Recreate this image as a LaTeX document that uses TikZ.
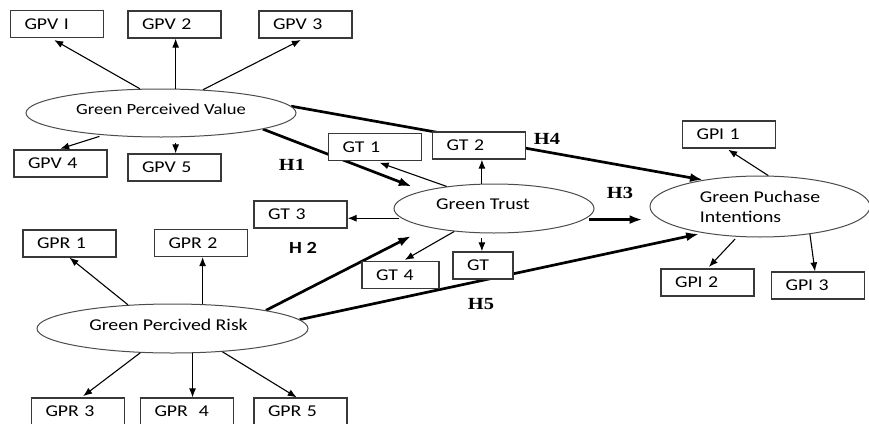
\documentclass[tikz,border=0pt]{standalone}
\usepackage{fontspec}
\setmainfont{Carlito}[FakeStretch=1.2]
\newfontfamily\hfont{Liberation Serif}[FakeStretch=1.2]
\usetikzlibrary{shapes.geometric,arrows.meta,backgrounds}

\tikzset{
    item/.style={draw=black!78, line width=1.2pt, fill=white, align=left, text width=65pt,
        inner xsep=14pt, inner ysep=0pt, minimum height=27pt, font=\fontsize{16.5}{20}\selectfont},
    latent/.style={ellipse, draw=black!70, line width=1pt, fill=white, inner sep=0pt,
        font=\fontsize{16.5}{20}\selectfont},
    loading/.style={-{Latex[length=9pt,width=7pt]}, line width=1.1pt},
    hpath/.style={-{Latex[length=13pt,width=9pt]}, line width=2.7pt},
    hyp/.style={font=\hfont\bfseries\fontsize{17}{20}\selectfont},
}

\begin{document}
\begin{tikzpicture}[x=1pt,y=-1pt]
    \useasboundingbox (0,0) rectangle (869,423);

    % constructs
    \node[latent, minimum width=270pt, minimum height=48pt, text depth=8pt,
        font=\fontsize{15.5}{19}\selectfont] (gpv) at (161,113) {Green Perceived Value};
    \node[latent, minimum width=200pt, minimum height=49pt, text depth=8pt] (gt) at (494,208.5) {Green Trust\kern22pt};
    \node[latent, minimum width=220pt, minimum height=61pt, align=left] (gpi) at (760,206.5) {Green Puchase\\Intentions};
    \node[latent, minimum width=271pt, minimum height=49pt, text depth=8pt] (gpr) at (172.5,328.5) {Green Percived Risk\kern8pt};

    % indicators
    \node[item] (gpv1) at (57,24) {GPV I};
    \node[item] (gpv2) at (174.5,24.5) {GPV 2};
    \node[item] (gpv3) at (305.5,24.5) {GPV 3};
    \node[item] (gpv4) at (60.5,163.5) {GPV 4};
    \node[item] (gpv5) at (174.5,167.5) {GPV 5};

    \node[item] (gt1) at (375,147) {GT 1};
    \node[item] (gt2) at (479,145.5) {GT 2};
    \node[item] (gt3) at (300.5,214.5) {GT 3};
    \node[item, text width=49pt] (gt4) at (400.5,275) {GT 4};
    \node[item, text width=32pt] (gtx) at (483,265.5) {GT};

    \node[item] (gpi1) at (729,134.5) {GPI 1};
    \node[item] (gpi2) at (707.5,282.5) {GPI 2};
    \node[item] (gpi3) at (818,285.5) {GPI 3};

    \node[item] (gpr1) at (69.5,243.5) {GPR 1};
    \node[item] (gpr2) at (201,243) {GPR 2};
    \node[item] (gpr3) at (78,411.5) {GPR 3};
    \node[item] (gpr4) at (187,411.5) {GPR~~4};
    \node[item] (gpr5) at (300.5,411.5) {GPR 5};

    % hypotheses
    \node[hyp] (h1) at (292,165) {H1};
    \node[hyp, font=\bfseries\fontsize{17}{20}\selectfont] (h2) at (303,248) {H 2};
    \node[hyp] (h3) at (620,193) {H3};
    \node[hyp] (h4) at (547,139) {H4};
    \node[hyp] (h5) at (481,304) {H5};

    \begin{pgfonlayer}{background}
        \draw[hpath] (gpv.3) -- (gpi.155.4);
        \draw[hpath, shorten >=12pt] (gpv.-9.3) -- (gt.166.3);
        \draw[hpath, shorten >=19pt] (gpr.11.6) -- (gt.-164.7);
        \draw[hpath, shorten <=5pt, shorten >=7pt] (gt.-7.3) -- (gt.-7.3 -| gpi.west);
        \draw[hpath, shorten >=4pt] (gpr.4) -- (gpi.-155.4);
    \end{pgfonlayer}

    \draw[loading, shorten >=4pt] (gpv.131.5) -- (gpv1.-114);
    \draw[loading] (gpv.59.6) -- (gpv.59.6 |- gpv2.south);
    \draw[loading, shorten >=3pt] (gpv.29) -- (gpv3.-98);
    \draw[loading, shorten <=4pt, shorten >=2pt] (gpv.-159.5) -- (gpv4.99);
    \draw[loading, shorten <=6pt] (gpv.-59.6) -- (gpv.-59.6 |- gpv5.north);

    \draw[loading, shorten >=5pt] (gt.155) -- (gt1.south);
    \draw[loading] (gt.116) -- (gt.116 |- gt2.south);
    \draw[loading, shorten <=2pt] (gt.186) -- (gt.186 -| gt3.east);
    \draw[loading, shorten >=2pt] (gt.-150) -- (gt4.80);
    \draw[loading, shorten <=5pt] (gt.-116) -- (gt.-116 |- gtx.north);

    \draw[loading, shorten >=2pt] (gpi.75) -- (gpi1.-100);
    \draw[loading, shorten <=3pt, shorten >=2pt] (gpi.-127.7) -- (gpi2.north);
    \draw[loading] (gpi.-29) -- (gpi3.102);

    \draw[loading] (gpr.152.6) -- (gpr1.south);
    \draw[loading] (gpr.39.5) -- (gpr.39.5 |- gpr2.south);
    \draw[loading, shorten >=2pt] (gpr.-143.8) -- (gpr3.76);
    \draw[loading] (gpr.-51.3) -- (gpr.-51.3 |- gpr4.north);
    \draw[loading] (gpr.-25.7) -- (gpr5.105);
\end{tikzpicture}
\end{document}
